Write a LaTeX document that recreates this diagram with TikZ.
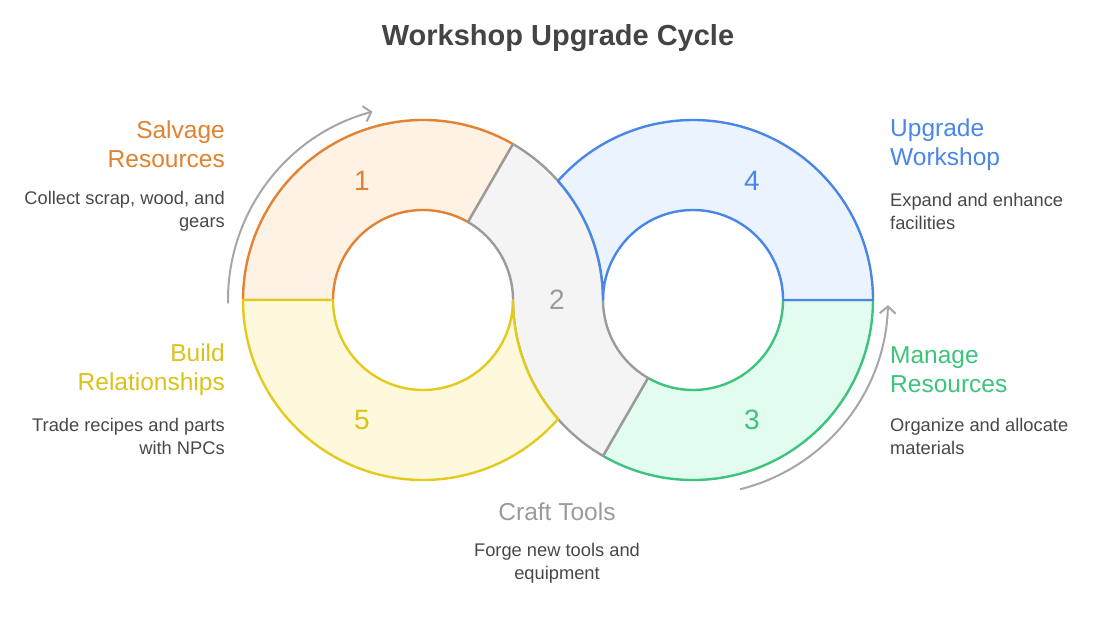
\documentclass[tikz,border=0pt]{standalone}
\usepackage{fontspec}
\setmainfont{Liberation Sans}
\usetikzlibrary{arrows.meta,calc}
\definecolor{orS}{HTML}{E38232}
\definecolor{orF}{HTML}{FEF2E5}
\definecolor{blS}{HTML}{4A86E8}
\definecolor{blF}{HTML}{EBF4FE}
\definecolor{grS}{HTML}{3CC47C}
\definecolor{grF}{HTML}{E3FCF0}
\definecolor{yeS}{HTML}{E4CA1C}
\definecolor{yeF}{HTML}{FEF9DC}
\definecolor{gyS}{HTML}{9B9B9B}
\definecolor{gyF}{HTML}{F4F4F4}
\definecolor{txt}{HTML}{484848}
\definecolor{ttl}{HTML}{444444}
\definecolor{arr}{HTML}{A6A6A6}
\definecolor{orT}{HTML}{E0822F}
\definecolor{blT}{HTML}{4A86E8}
\definecolor{grT}{HTML}{3CC47C}
\definecolor{yeT}{HTML}{D9C21A}
\definecolor{gyT}{HTML}{9B9B9B}
\begin{document}
\begin{tikzpicture}[x=1pt,y=1pt,
  seg/.style={line width=2.4pt, line join=round},
  cyc/.style={draw=arr, line width=2pt, -{Straight Barb[length=7pt,width=16pt,line width=2pt]}},
  head/.style={font=\fontsize{24.5}{29}\selectfont, inner sep=0pt},
  desc/.style={font=\fontsize{18.3}{23}\selectfont, text=txt, inner sep=0pt},
  num/.style={font=\fontsize{28}{30}\selectfont, inner sep=0pt}]
\useasboundingbox (0,0) rectangle (1115,625);
\coordinate (L) at (423,325);
\coordinate (R) at (693,325);
% orange
\path[seg, draw=orS, fill=orF] (L) ++(60:180pt) arc[start angle=60, end angle=180, radius=180pt]
  -- ++(0:90pt) arc[start angle=180, end angle=60, radius=90pt] -- cycle;
% green
\path[seg, draw=grS, fill=grF] (R) ++(240:180pt) arc[start angle=240, end angle=360, radius=180pt]
  -- ++(180:90pt) arc[start angle=360, end angle=240, radius=90pt] -- cycle;
% gray
\path[seg, draw=gyS, fill=gyF] (L) ++(60:90pt) -- ++(60:90pt)
  arc[start angle=60, end angle=0, radius=180pt]
  arc[start angle=180, end angle=240, radius=90pt] -- ++(240:90pt)
  arc[start angle=240, end angle=180, radius=180pt]
  arc[start angle=0, end angle=60, radius=90pt] -- cycle;
% blue
\path[seg, draw=blS, fill=blF] (R) ++(0:180pt) arc[start angle=0, end angle=138.59, radius=180pt]
  arc[start angle=41.41, end angle=0, radius=180pt]
  arc[start angle=180, end angle=0, radius=90pt] -- cycle;
% yellow
\path[seg, draw=yeS, fill=yeF] (L) ++(180:180pt) arc[start angle=180, end angle=318.59, radius=180pt]
  arc[start angle=221.41, end angle=180, radius=180pt]
  arc[start angle=360, end angle=180, radius=90pt] -- cycle;
% cycle arrows
\draw[cyc] (L) ++(181:195pt) arc[start angle=181, end angle=105, radius=195pt];
\draw[cyc] (R) ++(-76:195pt) arc[start angle=-76, end angle=-1.5, radius=195pt];
% numbers
\node[num, text=orT] (n1) at (362,444) {1};
\node[num, text=blT] (n4) at (752,444) {4};
\node[num, text=gyT] (n2) at (557,325) {2};
\node[num, text=yeT] (n5) at (362,205) {5};
\node[num, text=grT] (n3) at (752,205) {3};
% title
\node[font=\bfseries\fontsize{29}{32}\selectfont, text=ttl] (title) at (558,587) {Workshop Upgrade Cycle};
% left labels
\node[head, text=orT, anchor=east, align=right] (h1) at (225,480.5) {Salvage\\Resources};
\node[desc, anchor=east, align=right] (d1) at (225,413.5) {Collect scrap, wood, and\\gears};
\node[head, text=yeT, anchor=east, align=right] (h5) at (225,255.5) {Build\\Relationships};
\node[desc, anchor=east, align=right] (d5) at (225,188.5) {Trade recipes and parts\\with NPCs};
% right labels
\node[head, text=blT, anchor=west, align=left] (h4) at (890,480.5) {Upgrade\\Workshop};
\node[desc, anchor=west, align=left] (d4) at (890,413.5) {Expand and enhance\\facilities};
\node[head, text=grT, anchor=west, align=left] (h3) at (890,255.5) {Manage\\Resources};
\node[desc, anchor=west, align=left] (d3) at (890,188.5) {Organize and allocate\\materials};
% bottom label
\node[head, text=gyT, align=center] (h2) at (557,113) {Craft Tools};
\node[desc, align=center] (d2) at (557,61.5) {Forge new tools and\\equipment};
\end{tikzpicture}
\end{document}
